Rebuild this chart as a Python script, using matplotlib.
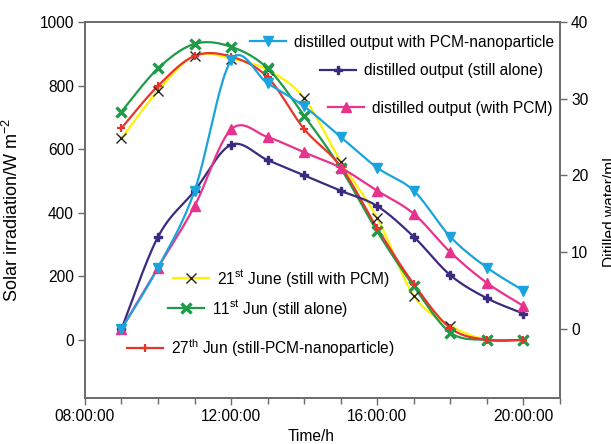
import numpy as np
import matplotlib
matplotlib.use("Agg")
import matplotlib.pyplot as plt
from matplotlib.lines import Line2D

plt.rcParams["font.family"] = ["Liberation Sans", "DejaVu Sans"]
plt.rcParams["mathtext.fontset"] = "custom"
plt.rcParams["mathtext.rm"] = "Liberation Sans"
plt.rcParams["mathtext.it"] = "Liberation Sans:italic"
plt.rcParams["mathtext.default"] = "regular"

# ---- data -------------------------------------------------------------
hours = [9, 10, 11, 12, 13, 14, 15, 16, 17, 18, 19, 20]

# solar irradiation, W m^-2 (left axis)
solar_jun21 = [634, 784, 894, 885, 849, 760, 561, 383, 139, 45, 0, 0]
solar_jun11 = [718, 854, 931, 922, 854, 705, 540, 341, 168, 23, 0, 0]
solar_jun27 = [666, 799, 893, 891, 826, 663, 545, 351, 175, 37, 0, 0]

# distilled water, mL (right axis)
out_nano = [0, 8, 18, 35, 32, 29, 25, 21, 18, 12, 8, 5]
out_alone = [0, 12, 18, 24, 22, 20, 18, 16, 12, 7, 4, 2]
out_pcm = [0, 8, 16, 26, 25, 23, 21, 18, 15, 10, 6, 3]

xtick_pos = [8, 12, 16, 20]
xtick_labels = ["08:00:00", "12:00:00", "16:00:00", "20:00:00"]
left_ticks = [0, 200, 400, 600, 800, 1000]
right_ticks = [0, 10, 20, 30, 40]

lab_nano = "distilled output with PCM-nanoparticle"
lab_alone = "distilled output (still alone)"
lab_pcm = "distilled output (with PCM)"
lab_jun21 = r"21$^{st}$ June (still with PCM)"
lab_jun11 = r"11$^{st}$ Jun (still alone)"
lab_jun27 = r"27$^{th}$ Jun (still-PCM-nanoparticle)"

# ---- colours ----------------------------------------------------------
C_BLUE = "#1aa3dc"
C_PURPLE = "#3b2a80"
C_PINK = "#e8338c"
C_YELLOW = "#fff200"
C_GREEN = "#1f9a48"
C_RED = "#e8342a"
C_SPINE = "#6a6a6a"


def smooth(x, y, n=40):
    """Bezier smoothing through every point (Catmull-Rom style tangents)."""
    x = np.asarray(x, float)
    y = np.asarray(y, float)
    px = np.concatenate([[x[0]], x, [x[-1]]])
    py = np.concatenate([[y[0]], y, [y[-1]]])
    t = np.linspace(0, 1, n)
    xs, ys = [], []
    for i in range(1, len(px) - 2):
        p0 = np.array([px[i - 1], py[i - 1]])
        p1 = np.array([px[i], py[i]])
        p2 = np.array([px[i + 1], py[i + 1]])
        p3 = np.array([px[i + 2], py[i + 2]])
        c1 = p1 + (p2 - p0) / 6.0
        c2 = p2 - (p3 - p1) / 6.0
        b = ((1 - t) ** 3)[:, None] * p1 + (3 * (1 - t) ** 2 * t)[:, None] * c1 \
            + (3 * (1 - t) * t ** 2)[:, None] * c2 + (t ** 3)[:, None] * p2
        xs.append(b[:, 0])
        ys.append(b[:, 1])
    return np.concatenate(xs), np.concatenate(ys)


fig = plt.figure(figsize=(6.11, 4.44), dpi=100)
ax = fig.add_axes([0.139, 0.1036, 0.7775, 0.8469])
ax2 = ax.twinx()

LW = 1.6

MK_JUN21 = dict(marker="x", ms=7, mec="#222222", mfc="none", mew=1.0)
MK_JUN11 = dict(marker="x", ms=7, mec=C_GREEN, mew=2.4)
MK_JUN27 = dict(marker="+", ms=6, mec=C_RED, mew=1.6)
MK_ALONE = dict(marker="P", ms=5.5, mec=C_PURPLE, mfc=C_PURPLE)
MK_PCM = dict(marker="^", ms=6.5, mec=C_PINK, mfc=C_PINK)
MK_NANO = dict(marker="v", ms=6.5, mec=C_BLUE, mfc=C_BLUE)

# solar irradiation curves
series_left = [
    (solar_jun21, C_YELLOW, MK_JUN21),
    (solar_jun11, C_GREEN, MK_JUN11),
    (solar_jun27, C_RED, MK_JUN27),
]
for vals, col, mk in series_left:
    sx, sy = smooth(hours, vals)
    ax.plot(sx, sy, color=col, lw=LW, zorder=2)
    ax.plot(hours, vals, ls="none", zorder=3, **mk)

# distilled water curves
series_right = [
    (out_alone, C_PURPLE, MK_ALONE),
    (out_pcm, C_PINK, MK_PCM),
    (out_nano, C_BLUE, MK_NANO),
]
for vals, col, mk in series_right:
    sx, sy = smooth(hours, vals)
    ax2.plot(sx, sy, color=col, lw=LW, zorder=2)
    ax2.plot(hours, vals, ls="none", zorder=3, **mk)

# ---- axes styling -----------------------------------------------------
ax.set_xlim(8, 21)
ax.set_ylim(-183, 1000)
ax2.set_ylim(-9.0, 40)

ax.set_xticks(xtick_pos)
ax.set_xticklabels(xtick_labels)
ax.set_xticks(np.arange(8, 22, 1), minor=True)
ax.set_yticks(left_ticks)
ax2.set_yticks(right_ticks)

for a in (ax, ax2):
    for s in a.spines.values():
        s.set_color(C_SPINE)
        s.set_linewidth(1.2)
    a.tick_params(which="both", direction="out", color=C_SPINE, width=1.0,
                  labelsize=11.2, pad=3)
ax.tick_params(axis="x", which="major", length=5)
ax.tick_params(axis="x", which="minor", length=4)
ax.tick_params(axis="y", length=5)
ax2.tick_params(axis="y", length=5)

ax.set_xlabel("Time/h", fontsize=11.2)
ax.xaxis.set_label_coords(0.476, -0.082)
ax.set_ylabel(r"Solar irradiation/W m$^{-2}$", fontsize=13)
ax.yaxis.set_label_coords(-0.133, 0.5)
ax2.set_ylabel("Ditilled water/mL", fontsize=11.2)
ax2.yaxis.set_label_coords(1.09, 0.5)

# ---- legend entries ---------------------------------------------------
W, H = 611.0, 444.0
entries = [
    (Line2D([], [], color=C_BLUE, lw=LW, **MK_NANO), lab_nano, 250, 42),
    (Line2D([], [], color=C_PURPLE, lw=LW, **MK_ALONE), lab_alone, 320, 71),
    (Line2D([], [], color=C_PINK, lw=LW, **MK_PCM), lab_pcm, 328, 108),
    (Line2D([], [], color=C_YELLOW, lw=LW, **MK_JUN21), lab_jun21, 173, 278),
    (Line2D([], [], color=C_GREEN, lw=LW, **MK_JUN11), lab_jun11, 168, 308),
    (Line2D([], [], color=C_RED, lw=LW, **MK_JUN27), lab_jun27, 127, 348),
]
for handle, label, px0, py0 in entries:
    fig.legend(handles=[handle], labels=[label], loc="center left",
               bbox_to_anchor=(px0 / W, 1 - py0 / H), frameon=False,
               borderpad=0, borderaxespad=0, handlelength=2.3,
               handletextpad=0.5, fontsize=11.2)

fig.savefig("out.png", dpi=100)
